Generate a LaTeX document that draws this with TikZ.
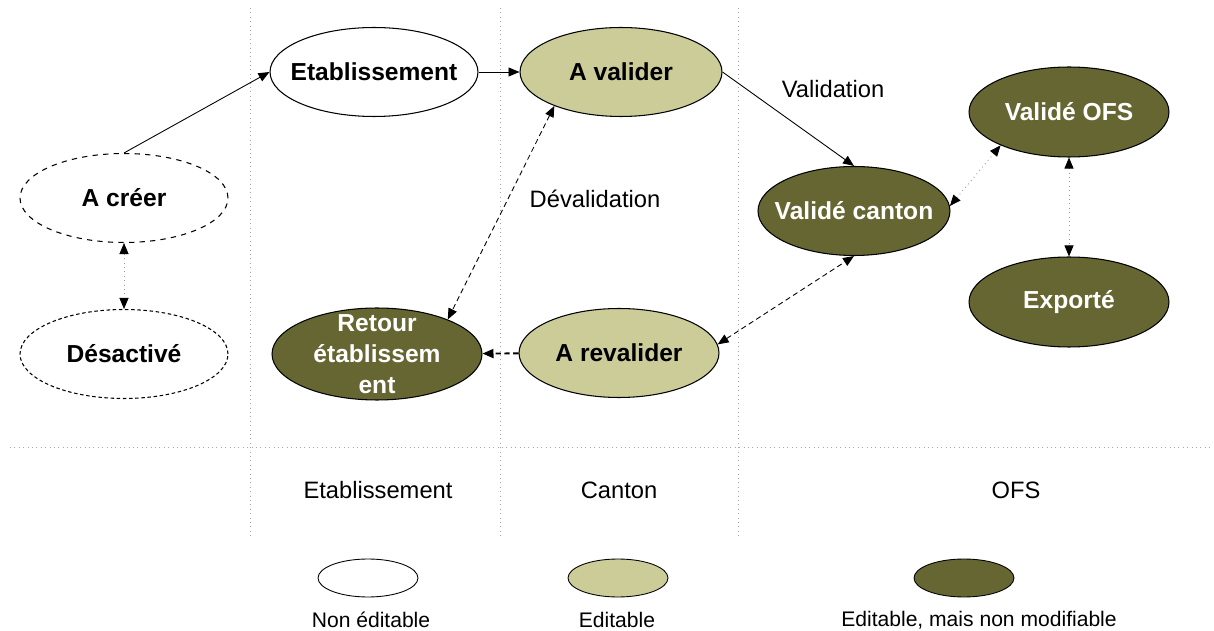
\documentclass[tikz,border=0pt]{standalone}
\usepackage{fontspec}
\setmainfont{Liberation Sans}
\usepackage{xcolor}
\usetikzlibrary{positioning, arrows.meta, shapes.geometric}
\definecolor{oliveL}{RGB}{204,204,153}
\definecolor{oliveD}{RGB}{102,102,51}
\tikzset{
  snode/.style={ellipse, draw, line width=0.6pt, inner xsep=-1cm, inner ysep=-1cm, minimum width=4.16cm, minimum height=1.78cm, align=center, font=\fontsize{14}{17.5}\selectfont\bfseries},
  nonedit/.style={snode, fill=white},
  edit/.style={snode, fill=oliveL},
  fixed/.style={snode, fill=oliveD, text=white},
  ghost/.style={snode, dashed},
  lane/.style={font=\fontsize{13.5}{16}\selectfont},
  legend/.style={ellipse, draw, line width=0.5pt, minimum width=2cm, minimum height=0.76cm, inner sep=0pt},
  legtext/.style={font=\fontsize{12}{14}\selectfont},
  sep/.style={gray!70, dotted, line width=0.5pt},
  tip/.style={-{Triangle[length=2.2mm, width=1.8mm, color=black, fill=black]}},
  arr/.style={tip, line width=0.5pt},
  dbl/.style={{Triangle[length=2.2mm, width=1.8mm, color=black, fill=black]}-{Triangle[length=2.2mm, width=1.8mm, color=black, fill=black]}, line width=0.5pt},
  dotl/.style={dbl, gray!80, dotted},
  dashl/.style={dbl, dash pattern=on 3pt off 2pt},
}

\begin{document}
\begin{tikzpicture}[x=0.02cm, y=-0.02cm]
\useasboundingbox (0,0) rectangle (1214,631);
\foreach \x in {250,500,738}
  \draw[sep] (\x,8) -- (\x,538);
\draw[sep] (10,447) -- (1212,447);

\node[ghost] (acreer) at (124,198) {A créer};
\node[ghost, dash pattern=on 2pt off 1.5pt] (desactive) at (124,354) {Désactivé};
\node[nonedit] (etab) at (374,72) {Etablissement};
\node[edit, minimum width=4.04cm] (avalider) at (621,72) {A valider};
\node[edit, minimum width=4cm] (arevalider) at (619,353) {A revalider};
\node[fixed, minimum width=4.2cm, minimum height=1.84cm] (retour) at (377,354) {Retour\\établissem\\ent};
\node[fixed, minimum width=3.84cm] (valcanton) at (854,211) {Validé canton};
\node[fixed, minimum width=4cm, minimum height=1.8cm] (valofs) at (1069,112) {Validé OFS};
\node[fixed, minimum width=4cm, minimum height=1.8cm] (exporte) at (1069,302) {Exporté};

\node[lane] (tvalid) at (833,89) {Validation};
\node[lane] (tdevalid) at (595,199) {Dévalidation};

\draw[arr] (acreer.north) -- (etab.west);
\draw[arr] (etab) -- (avalider);
\draw[arr] (avalider.east) -- (valcanton.north);
\draw[arr, line width=1.1pt, dash pattern=on 3pt off 2pt] (arevalider) -- (retour);
\draw[dashl] (avalider.207) -- (retour.26);
\draw[dashl] (arevalider.5) -- (valcanton.south);
\draw[dotl] (valcanton.3) -- (valofs.206);
\foreach \from/\to in {valofs/exporte, acreer/desactive}
  \draw[dotl] (\from) -- (\to);

\node[lane] (lnetab) at (378,490) {Etablissement};
\node[lane] (lncanton) at (619,490) {Canton};
\node[lane] (lnofs) at (1016,490) {OFS};

\node[legend, fill=white] (lgnon) at (368,578) {};
\node[legend, fill=oliveL] (lgedit) at (618,578) {};
\node[legend, fill=oliveD] (lgfixed) at (964,578) {};
\node[legtext] (txnon) at (371,620) {Non éditable};
\node[legtext] (txedit) at (617,620) {Editable};
\node[legtext] (txfixed) at (979,620) {Editable, mais non modifiable};
\end{tikzpicture}
\end{document}
